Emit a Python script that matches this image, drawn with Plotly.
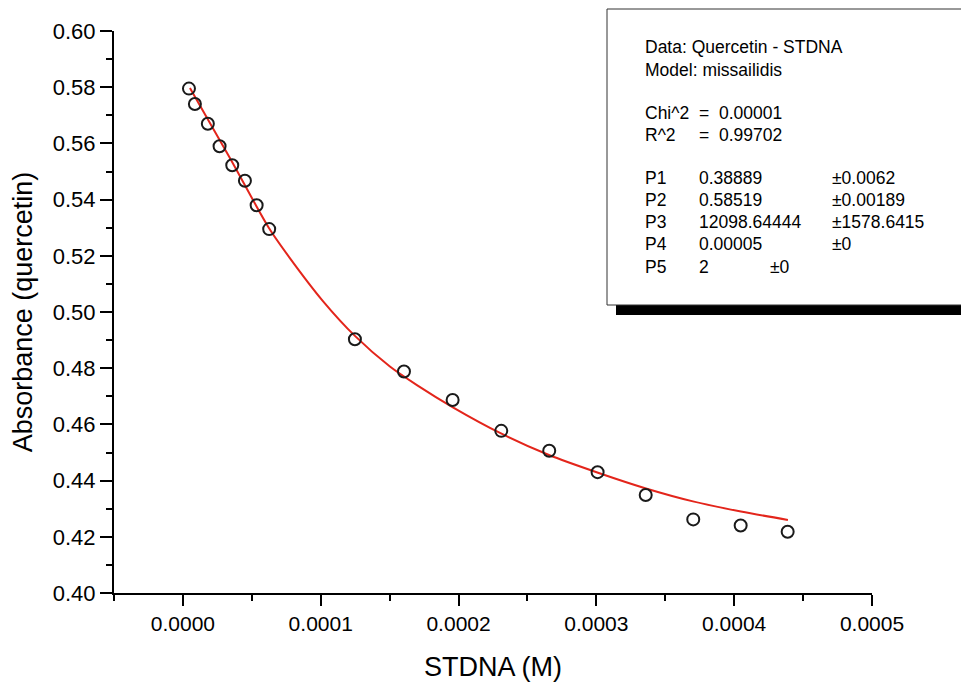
import plotly.graph_objects as go

# ---------------- data ----------------
stdna_M = [0.0000044, 0.0000087, 0.0000181, 0.0000266, 0.0000358, 0.0000450,
           0.0000535, 0.0000626, 0.0001248, 0.0001604, 0.0001957, 0.0002310,
           0.0002658, 0.0003009, 0.0003358, 0.0003703, 0.0004047, 0.0004388]
absorbance = [0.5795, 0.5740, 0.5670, 0.5590, 0.5522, 0.5467,
              0.5380, 0.5295, 0.4903, 0.4788, 0.4687, 0.4577,
              0.4506, 0.4430, 0.4349, 0.4262, 0.4240, 0.4218]

fit_x = [0.0000051, 0.0000341, 0.0000624, 0.0000776, 0.0001016, 0.0001248,
         0.0001502, 0.0001698, 0.0001959, 0.0002308, 0.0002656, 0.0003012,
         0.0003360, 0.0003701, 0.0004049, 0.0004390]
fit_y = [0.5797, 0.5548, 0.5299, 0.5192, 0.5039, 0.4915,
         0.4806, 0.4740, 0.4661, 0.4568, 0.4491, 0.4428,
         0.4372, 0.4326, 0.4290, 0.4260]

x_ticks = [0.0, 0.0001, 0.0002, 0.0003, 0.0004, 0.0005]
y_ticks = [0.40, 0.42, 0.44, 0.46, 0.48, 0.50, 0.52, 0.54, 0.56, 0.58, 0.60]

box_header = ["Data: Quercetin - STDNA", "Model: missailidis"]
stat_names = ["Chi^2", "R^2"]
stat_values = ["=  0.00001", "=  0.99702"]
param_names = ["P1", "P2", "P3", "P4", "P5"]
param_values = ["0.38889", "0.58519", "12098.64444", "0.00005", "2"]
param_errors = ["±0.0062", "±0.00189", "±1578.6415", "±0", "±0"]

FONT = "Liberation Sans, Arial, sans-serif"

fig = go.Figure()
fig.add_trace(go.Scatter(
    x=fit_x, y=fit_y, mode="lines",
    line=dict(color="#e3251b", width=2, shape="spline", smoothing=0.8),
    hoverinfo="skip", showlegend=False))
fig.add_trace(go.Scatter(
    x=stdna_M, y=absorbance, mode="markers",
    marker=dict(symbol="circle-open", size=12, color="#1a1a1a",
                line=dict(width=2, color="#1a1a1a")),
    showlegend=False))

# page offset (body margin) and plot-area pixel geometry in reference frame
OFF = 8
FIG_W, FIG_H = 969 - OFF, 683 - OFF
L, R, T, B = 114, 872, 31, 593
W, H = R - L, B - T


def px(xp):
    return (xp - L) / W


def py(yp):
    return (B - yp) / H


shapes = [
    # shadow
    dict(type="rect", xref="paper", yref="paper",
         x0=px(616), x1=px(968), y0=py(315), y1=py(14),
         fillcolor="black", line=dict(width=0), layer="above"),
    # box
    dict(type="rect", xref="paper", yref="paper",
         x0=px(607), x1=px(962), y0=py(305), y1=py(9),
         fillcolor="white", line=dict(width=1, color="#333"), layer="above"),
]

annotations = []


def txt(xp, yp, s):
    annotations.append(dict(
        xref="paper", yref="paper", x=px(xp), y=py(yp), text=s,
        showarrow=False, xanchor="left", yanchor="middle",
        font=dict(family=FONT, size=17.5, color="black")))


rows_header = [47, 70]
for s, yv in zip(box_header, rows_header):
    txt(643, yv, s)
for n, v, yv in zip(stat_names, stat_values, [113, 135]):
    txt(643, yv, n)
    txt(697, yv, v)
p_rows = [178, 200, 222, 244, 267]
for i, (n, v, e, yv) in enumerate(zip(param_names, param_values, param_errors, p_rows)):
    txt(643, yv, n)
    txt(697, yv, v)
    txt(768 if i == 4 else 830, yv, e)

fig.update_layout(
    width=FIG_W, height=FIG_H,
    margin=dict(l=L - OFF, r=969 - R, t=T - OFF, b=683 - B, autoexpand=False),
    paper_bgcolor="white", plot_bgcolor="white",
    font=dict(family=FONT, color="black"),
    shapes=shapes, annotations=annotations,
    xaxis=dict(
        range=[-0.00005, 0.0005], tickvals=x_ticks, tickformat=".4f",
        automargin=False,
        showgrid=False, zeroline=False, showline=True, linecolor="black",
        linewidth=2, ticks="outside", ticklen=11, tickwidth=2, tickcolor="black",
        tickfont=dict(size=21, family=FONT),
        minor=dict(dtick=0.00005, tick0=0, ticks="outside", ticklen=6,
                   tickwidth=2, tickcolor="black", showgrid=False),
        title=dict(text="STDNA (M)", font=dict(size=27, family=FONT), standoff=23),
    ),
    yaxis=dict(
        range=[0.40, 0.60], tickvals=y_ticks, tickformat=".2f",
        automargin=False,
        showgrid=False, zeroline=False, showline=True, linecolor="black",
        linewidth=2, ticks="outside", ticklen=12, tickwidth=2, tickcolor="black",
        tickfont=dict(size=22, family=FONT),
        minor=dict(dtick=0.01, tick0=0.40, ticks="outside", ticklen=6,
                   tickwidth=2, tickcolor="black", showgrid=False),
        title=dict(text="Absorbance (quercetin)", font=dict(size=27, family=FONT), standoff=14),
    ),
)

fig.write_html("out.html")
